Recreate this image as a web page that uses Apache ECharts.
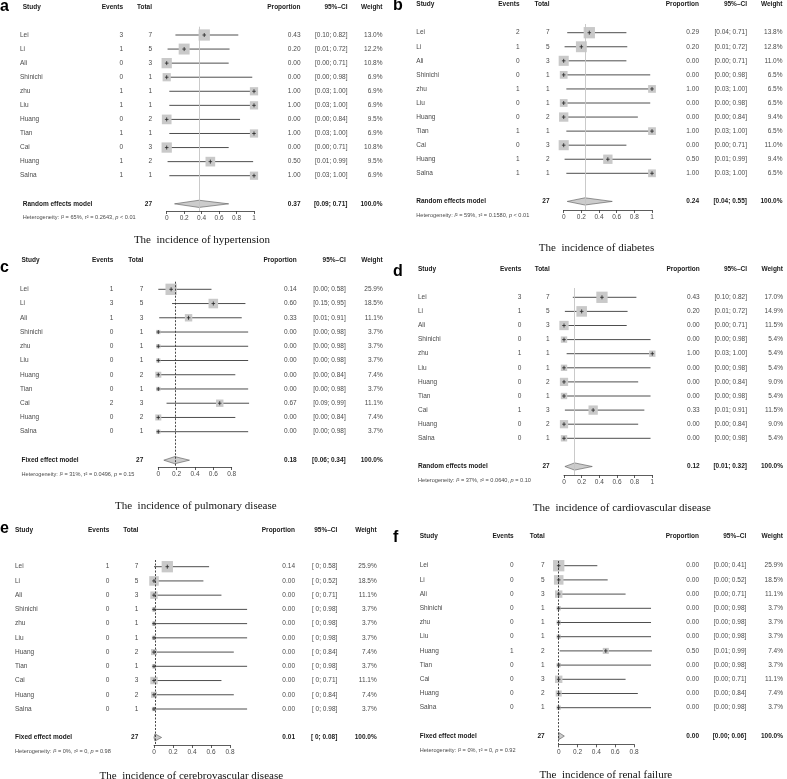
<!DOCTYPE html>
<html><head><meta charset="utf-8">
<script src="https://cdn.jsdelivr.net/npm/echarts@6/dist/echarts.min.js"></script>
<style>html,body{margin:0;padding:0;background:#fff}#c{width:787px;height:779px}</style>
</head><body><div id="c"></div>
<script>
// ---------- DATA ----------
const studyNames = ['Lei','Li','Ali','Shinichi','zhu','Liu','Huang','Tian','Cai','Huang','Salna'];
const totals = [7,5,3,1,1,1,2,1,3,2,1];

// a: hypertension
const hypEvents = [3,1,0,0,1,1,0,1,0,1,1];
const hypProp   = [0.43,0.20,0.00,0.00,1.00,1.00,0.00,1.00,0.00,0.50,1.00];
const hypLower  = [0.10,0.01,0.00,0.00,0.03,0.03,0.00,0.03,0.00,0.01,0.03];
const hypUpper  = [0.82,0.72,0.71,0.98,1.00,1.00,0.84,1.00,0.71,0.99,1.00];
const hypWeight = [13.0,12.2,10.8,6.9,6.9,6.9,9.5,6.9,10.8,9.5,6.9];
const hypSummary = [0.37,0.09,0.71];
const hypHet = ['65%','0.2643','<','0.01'];

// b: diabetes
const diaEvents = [2,1,0,0,1,0,0,1,0,1,1];
const diaProp   = [0.29,0.20,0.00,0.00,1.00,0.00,0.00,1.00,0.00,0.50,1.00];
const diaLower  = [0.04,0.01,0.00,0.00,0.03,0.00,0.00,0.03,0.00,0.01,0.03];
const diaUpper  = [0.71,0.72,0.71,0.98,1.00,0.98,0.84,1.00,0.71,0.99,1.00];
const diaWeight = [13.8,12.8,11.0,6.5,6.5,6.5,9.4,6.5,11.0,9.4,6.5];
const diaSummary = [0.24,0.04,0.55];
const diaHet = ['59%','0.1580','<','0.01'];

// c: pulmonary disease
const pulEvents = [1,3,1,0,0,0,0,0,2,0,0];
const pulProp   = [0.14,0.60,0.33,0.00,0.00,0.00,0.00,0.00,0.67,0.00,0.00];
const pulLower  = [0.00,0.15,0.01,0.00,0.00,0.00,0.00,0.00,0.09,0.00,0.00];
const pulUpper  = [0.58,0.95,0.91,0.98,0.98,0.98,0.84,0.98,0.99,0.84,0.98];
const pulWeight = [25.9,18.5,11.1,3.7,3.7,3.7,7.4,3.7,11.1,7.4,3.7];
const pulSummary = [0.18,0.06,0.34];
const pulHet = ['31%','0.0496','=','0.15'];

// d: cardiovascular disease
const carEvents = [3,1,0,0,1,0,0,0,1,0,0];
const carProp   = [0.43,0.20,0.00,0.00,1.00,0.00,0.00,0.00,0.33,0.00,0.00];
const carLower  = [0.10,0.01,0.00,0.00,0.03,0.00,0.00,0.00,0.01,0.00,0.00];
const carUpper  = [0.82,0.72,0.71,0.98,1.00,0.98,0.84,0.98,0.91,0.84,0.98];
const carWeight = [17.0,14.9,11.5,5.4,5.4,5.4,9.0,5.4,11.5,9.0,5.4];
const carSummary = [0.12,0.01,0.32];
const carHet = ['37%','0.0640','=','0.10'];

// e: cerebrovascular disease
const cerEvents = [1,0,0,0,0,0,0,0,0,0,0];
const cerProp   = [0.14,0.00,0.00,0.00,0.00,0.00,0.00,0.00,0.00,0.00,0.00];
const cerLower  = [0,0,0,0,0,0,0,0,0,0,0];
const cerUpper  = [0.58,0.52,0.71,0.98,0.98,0.98,0.84,0.98,0.71,0.84,0.98];
const cerWeight = [25.9,18.5,11.1,3.7,3.7,3.7,7.4,3.7,11.1,7.4,3.7];
const cerSummary = [0.01,0,0.08];
const cerHet = ['0%','0','=','0.98'];

// f: renal failure
const renEvents = [0,0,0,0,0,0,1,0,0,0,0];
const renProp   = [0.00,0.00,0.00,0.00,0.00,0.00,0.50,0.00,0.00,0.00,0.00];
const renLower  = [0.00,0.00,0.00,0.00,0.00,0.00,0.01,0.00,0.00,0.00,0.00];
const renUpper  = [0.41,0.52,0.71,0.98,0.98,0.98,0.99,0.98,0.71,0.84,0.98];
const renWeight = [25.9,18.5,11.1,3.7,3.7,3.7,7.4,3.7,11.1,7.4,3.7];
const renSummary = [0.00,0.00,0.06];
const renHet = ['0%','0','=','0.92'];

// ---------- PANELS ----------
const panels = [
  {letter:'a', title:'The  incidence of hypertension', model:'Random effects model', random:true, ciZero:false,
   events:hypEvents, prop:hypProp, lower:hypLower, upper:hypUpper, weight:hypWeight, summary:hypSummary, het:hypHet, axisMax:1},
  {letter:'b', title:'The  incidence of diabetes', model:'Random effects model', random:true, ciZero:false,
   events:diaEvents, prop:diaProp, lower:diaLower, upper:diaUpper, weight:diaWeight, summary:diaSummary, het:diaHet, axisMax:1},
  {letter:'c', title:'The  incidence of pulmonary disease', model:'Fixed effect model', random:false, ciZero:false,
   events:pulEvents, prop:pulProp, lower:pulLower, upper:pulUpper, weight:pulWeight, summary:pulSummary, het:pulHet, axisMax:0.8},
  {letter:'d', title:'The  incidence of cardiovascular disease', model:'Random effects model', random:true, ciZero:false,
   events:carEvents, prop:carProp, lower:carLower, upper:carUpper, weight:carWeight, summary:carSummary, het:carHet, axisMax:1},
  {letter:'e', title:'The  incidence of cerebrovascular disease', model:'Fixed effect model', random:false, ciZero:true,
   events:cerEvents, prop:cerProp, lower:cerLower, upper:cerUpper, weight:cerWeight, summary:cerSummary, het:cerHet, axisMax:0.8},
  {letter:'f', title:'The  incidence of renal failure', model:'Fixed effect model', random:false, ciZero:false,
   events:renEvents, prop:renProp, lower:renLower, upper:renUpper, weight:renWeight, summary:renSummary, het:renHet, axisMax:0.8}
];

// ---------- LAYOUT (pixels) ----------
const layouts = [
  {lx:0,   ly:6.6,   x0:166.7, x1:254,   row0:35,    row10:175.7, axisY:211,   refTop:26.7, headerY:7.3,   titleX:202,   titleY:240,   cols:[20,123,152,300.5,347.5,382.5], headX:22.7},
  {lx:393, ly:6,     x0:563.7, x1:652,   row0:32.7,  row10:173.3, axisY:210,   refTop:24,   headerY:4.5,   titleX:596.5, titleY:248,   cols:[416.3,519.5,549.5,699,747,782.5], headX:416.3},
  {lx:0,   ly:267.6, x0:158.3, x1:250,   row0:289.3, row10:431.7, axisY:467,   refTop:281.7,headerY:259.8, titleX:195.8, titleY:505.7, cols:[20,113.3,143.3,296.7,345.7,382.7], headX:21.5},
  {lx:393, ly:271.5, x0:564,   x1:652.3, row0:297.3, row10:438.3, axisY:475,   refTop:288,  headerY:269.3, titleX:621.8, titleY:508,   cols:[418,521.3,549.7,699.7,747,783], headX:418},
  {lx:0,   ly:528.6, x0:154,   x1:249,   row0:566.7, row10:709,   axisY:745,   refTop:560,  headerY:530,   titleX:191.3, titleY:775.7, cols:[15,109.3,138.3,295,337.3,376.7], headX:15},
  {lx:393, ly:538,   x0:558.7, x1:652.9, row0:565.7, row10:707.7, axisY:744.3, refTop:561,  headerY:536.7, titleX:605.8, titleY:775,   cols:[419.7,513.7,544.7,699,746.3,783], headX:419.7}
];

const SANS = '"Liberation Sans", Arial, Helvetica, sans-serif';
const SERIF = '"Liberation Serif", "Times New Roman", serif';
const FS = 6.5;
const TXT = '#4a4a4a';
const MAX_SIDE = 11.3;
const SUMMARY_ROW = 12;
const HET_ROW = 13;

function txt(x, y, s, align, bold, color) {
  return {type:'text', x:x, y:y, style:{text:s, font:(bold?'bold ':'')+FS+'px '+SANS, fill:color||TXT, align:align, verticalAlign:'middle'}};
}
function fmtCI(lo, hi, zero) {
  if (zero) return '[ ' + (lo === 0 ? '0' : lo.toFixed(2)) + '; ' + hi.toFixed(2) + ']';
  return '[' + lo.toFixed(2) + '; ' + hi.toFixed(2) + ']';
}

const grids = [], xAxes = [], yAxes = [], series = [], graphics = [];

panels.forEach((P, gi) => {
  const L = layouts[gi];
  const s = (L.row10 - L.row0) / 10;
  const yMin = (L.refTop - L.row0) / s;
  const yMax = (L.axisY - L.row0) / s;
  const headerRow = (L.headerY - L.row0) / s;
  const wmax = Math.max.apply(null, P.weight);
  const totalN = totals.reduce((a, b) => a + b, 0);
  const C = L.cols;

  grids.push({left:L.x0, top:L.refTop, width:(L.x1 - L.x0) * P.axisMax, height:L.axisY - L.refTop, containLabel:false});
  xAxes.push({
    type:'value', gridIndex:gi, min:0, max:P.axisMax, interval:0.2, position:'bottom',
    axisLine:{show:true, onZero:false, lineStyle:{color:'#333', width:0.8}},
    axisTick:{show:true, length:3, lineStyle:{color:'#333', width:0.8}},
    axisLabel:{fontSize:FS, color:TXT, fontFamily:SANS, margin:4,
      formatter: v => String(Math.round(v * 10) / 10)},
    splitLine:{show:false}
  });
  yAxes.push({type:'value', gridIndex:gi, inverse:true, min:yMin, max:yMax, show:false, splitLine:{show:false}});

  const rows = studyNames.map((n, k) => [k, P.prop[k], P.lower[k], P.upper[k], P.weight[k], P.events[k], totals[k]]);

  // study rows
  series.push({
    type:'custom', xAxisIndex:gi, yAxisIndex:gi, clip:false, silent:true, animation:false,
    data: rows,
    renderItem: function (params, api) {
      const k = api.value(0), est = api.value(1), lo = api.value(2), hi = api.value(3), w = api.value(4);
      const pe = api.coord([est, k]), pl = api.coord([lo, k]), ph = api.coord([hi, k]);
      const y = pe[1];
      const side = MAX_SIDE * Math.sqrt(w / wmax);
      return {type:'group', children:[
        {type:'line', shape:{x1:pl[0], y1:y, x2:ph[0], y2:y}, style:{stroke:'#3a3a3a', lineWidth:0.9}},
        {type:'rect', shape:{x:pe[0]-side/2, y:y-side/2, width:side, height:side}, style:{fill:'#c9c9c9'}},
        {type:'line', shape:{x1:pe[0], y1:y-2, x2:pe[0], y2:y+2}, style:{stroke:'#222', lineWidth:0.8}},
        {type:'line', shape:{x1:pe[0]-1.8, y1:y, x2:pe[0]+1.8, y2:y}, style:{stroke:'#222', lineWidth:0.8}},
        txt(C[0], y, studyNames[k], 'left', false),
        txt(C[1], y, String(api.value(5)), 'right', false),
        txt(C[2], y, String(api.value(6)), 'right', false),
        txt(C[3], y, est.toFixed(2), 'right', false),
        txt(C[4], y, fmtCI(lo, hi, P.ciZero), 'right', false),
        txt(C[5], y, w.toFixed(1) + '%', 'right', false)
      ]};
    }
  });

  // header
  series.push({
    type:'custom', xAxisIndex:gi, yAxisIndex:gi, clip:false, silent:true, animation:false,
    data:[[0, headerRow]],
    renderItem: function (params, api) {
      const y = api.coord([0, api.value(1)])[1];
      const hc = '#1a1a1a';
      return {type:'group', children:[
        txt(L.headX, y, 'Study', 'left', true, hc),
        txt(C[1], y, 'Events', 'right', true, hc),
        txt(C[2], y, 'Total', 'right', true, hc),
        txt(C[3], y, 'Proportion', 'right', true, hc),
        txt(C[4], y, '95%\u2013CI', 'right', true, hc),
        txt(C[5], y, 'Weight', 'right', true, hc)
      ]};
    }
  });

  // summary
  const sm = P.summary;
  series.push({
    type:'custom', xAxisIndex:gi, yAxisIndex:gi, clip:false, silent:true, animation:false,
    data:[[sm[0], sm[1], sm[2], SUMMARY_ROW, HET_ROW]],
    renderItem: function (params, api) {
      const est = api.value(0), lo = api.value(1), hi = api.value(2), r = api.value(3), hr = api.value(4);
      const pe = api.coord([est, r]), pl = api.coord([lo, r]), ph = api.coord([hi, r]);
      const y = pe[1], h = 3.6;
      const yh = api.coord([0, hr])[1];
      const hc = '#1a1a1a';
      const het = 'Heterogeneity: {it|I}\u00b2 = ' + P.het[0] + ', {it|\u03c4}\u00b2 = ' + P.het[1] + ', {it|p} ' + P.het[2] + ' ' + P.het[3];
      return {type:'group', children:[
        {type:'polygon', shape:{points:[[pl[0], y], [pe[0], y-h], [ph[0], y], [pe[0], y+h]]},
          style:{fill:'#cccccc', stroke:'#555', lineWidth:0.6}},
        txt(L.headX, y, P.model, 'left', true, hc),
        txt(C[2], y, String(totalN), 'right', true, hc),
        txt(C[3], y, est.toFixed(2), 'right', true, hc),
        txt(C[4], y, fmtCI(lo, hi, P.ciZero), 'right', true, hc),
        txt(C[5], y, '100.0%', 'right', true, hc),
        {type:'text', x:L.headX, y:yh, style:{text:het, fontSize:5.6, fontFamily:SANS, fill:TXT, align:'left', verticalAlign:'middle',
          rich:{it:{fontStyle:'italic', fontSize:5.6, fontFamily:SANS, fill:TXT}}}}
      ]};
    },
    markLine:{
      silent:true, animation:false, symbol:['none','none'], label:{show:false},
      lineStyle: P.random ? {color:'#c4c4c4', width:0.9, type:'solid'} : {color:'#333', width:0.9, type:[2,1.5]},
      emphasis:{disabled:true},
      data:[{xAxis: sm[0]}]
    }
  });

  graphics.push({type:'text', x:L.lx, y:L.ly, style:{text:P.letter, font:'bold 16px ' + SANS, fill:'#000', align:'left', verticalAlign:'middle'}});
  graphics.push({type:'text', x:L.titleX, y:L.titleY, style:{text:P.title, font:'11px ' + SERIF, fill:'#111', align:'center', verticalAlign:'middle'}});
});

const chart = echarts.init(document.getElementById('c'), null, {renderer:'canvas'});
chart.setOption({
  animation:false,
  backgroundColor:'#fff',
  grid:grids, xAxis:xAxes, yAxis:yAxes, series:series, graphic:graphics
});
</script></body></html>
